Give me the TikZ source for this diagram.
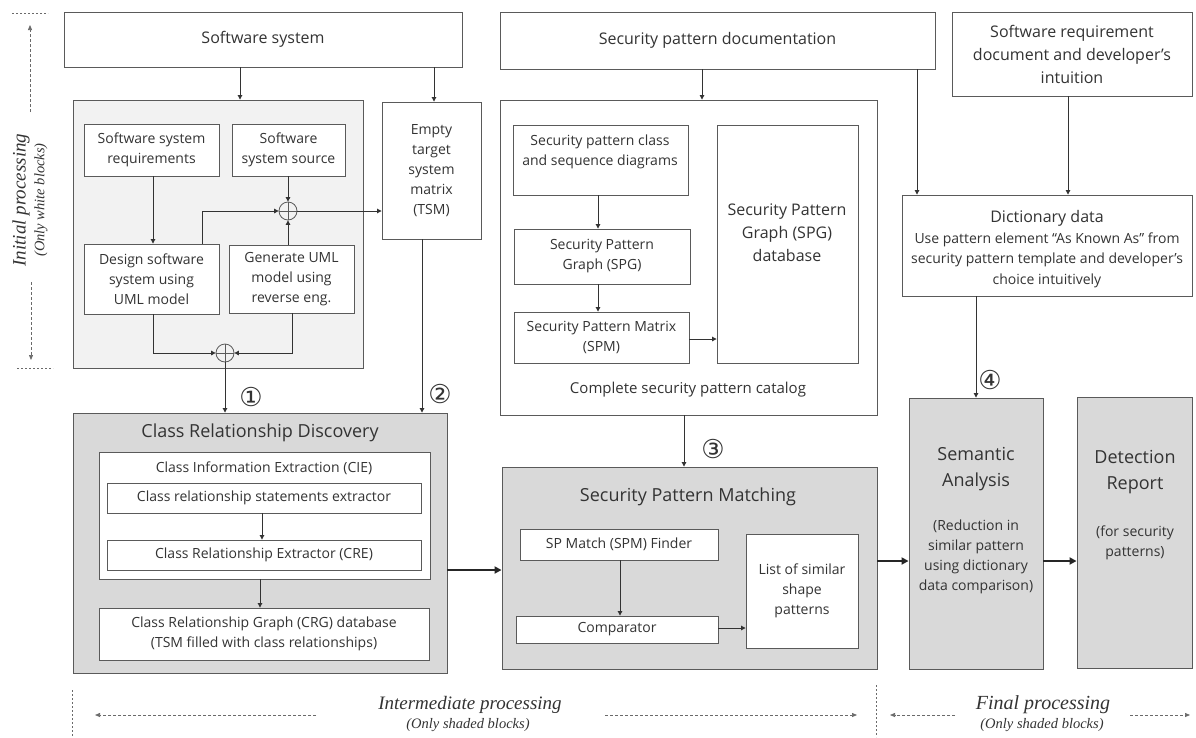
\documentclass[tikz,border=0pt]{standalone}
\usepackage{fontspec}
\setmainfont{Open Sans}
\newfontfamily\lser{Liberation Serif}
\newfontfamily\dvs{DejaVu Sans}
\usetikzlibrary{arrows.meta}
\definecolor{bord}{HTML}{5A5A5A}
\definecolor{txt}{HTML}{333333}
\definecolor{shade}{HTML}{D9D9D9}
\definecolor{light}{HTML}{F2F2F2}
\definecolor{anno}{HTML}{6A6A6A}
\newcommand\fsz[2]{\fontsize{#1}{#2}\selectfont}
\newcommand\bx[7]{\node[#1, minimum width={#5pt-#3pt}, minimum height={#6pt-#4pt}] (#2) at ({(#3+#5)/2},{(#4+#6)/2}) {#7};}
\tikzset{
  box/.style={draw=bord, line width=0.9pt, fill=white, text=txt, align=center, inner sep=0pt, font=\fsz{14}{20}},
  lbl/.style={text=txt, align=center, inner sep=0pt, font=\fsz{14}{20}},
  arr/.style={draw=txt, line width=0.9pt, -{Triangle[length=4.5pt,width=4.5pt]}},
  thk/.style={draw=black!85, line width=2.4pt, -{Triangle[length=7pt,width=7pt]}},
  opl/.style={circle, draw=bord, fill=light, minimum size=18pt, inner sep=0pt, line width=0.8pt,
    path picture={\draw[bord, line width=0.8pt] (path picture bounding box.north) -- (path picture bounding box.south) (path picture bounding box.west) -- (path picture bounding box.east);}},
  num/.style={text=txt, inner sep=0pt, font=\dvs\fsz{26}{28}},
  dasharr/.style={draw=anno, line width=0.7pt, dash pattern=on 3pt off 2pt, -{Triangle[length=5pt,width=4pt]}},
  dotln/.style={draw=anno, line width=0.7pt, dash pattern=on 2pt off 2pt},
  itl/.style={text=txt, inner sep=0pt, font=\lser\itshape\fsz{19}{22}},
  itls/.style={text=txt, inner sep=0pt, font=\lser\itshape\fsz{14.5}{16}},
}
\begin{document}
\begin{tikzpicture}[x=1pt,y=-1pt]
\useasboundingbox[fill=white] (0,0) rectangle (1196,737);

% ---------- top row ----------
\bx{box,font=\fsz{16}{20}}{ss}{64}{12}{462}{67}{Software system}
\bx{box,fill=light}{ib}{73}{100}{363}{368}{}
\bx{box}{ssr}{84}{124}{219}{176}{Software system\\requirements}
\bx{box}{sss}{232}{124}{345}{176}{Software\\system source}
\bx{box}{dss}{84}{244}{219}{314}{Design software\\system using\\UML model}
\bx{box}{gum}{229}{245}{354}{313}{Generate UML\\model using\\reverse eng.}
\node[opl] (o1) at (288,211) {};
\node[opl] (o2) at (225,353) {};
\bx{box}{tsm}{382}{102}{481}{239}{Empty\\target\\system\\matrix\\(TSM)}

\bx{box,font=\fsz{16}{20}}{spd}{500}{12}{935}{69}{Security pattern documentation}
\bx{box}{cat}{500}{100}{877}{415}{}
\node[lbl,font=\fsz{15}{20}] (catl) at (688,390) {Complete security pattern catalog};
\bx{box}{spc}{513}{125}{688}{195}{}
\node[lbl] (spct) at (600,152) {Security pattern class\\and sequence diagrams};
\bx{box}{spg}{514}{229}{690}{284}{Security Pattern\\Graph (SPG)}
\bx{box}{spm}{514}{312}{689}{363}{Security Pattern Matrix\\(SPM)}
\bx{box}{spgdb}{717}{125}{858}{363}{}
\node[lbl,font=\fsz{16}{23}] (spgdbt) at (787,233) {Security Pattern\\Graph (SPG)\\database};

\bx{box,font=\fsz{16}{23}}{srd}{952}{12}{1192}{96}{Software requirement\\document and developer's\\intuition}
\bx{box}{dict}{902}{195}{1192}{296}{}
\node[lbl,font=\fsz{14}{20.5}] (dictt) at (1047,249) {{\fsz{16}{21}Dictionary data}\\Use pattern element “As Known As” from\\security pattern template and developer's\\choice intuitively};

% ---------- bottom row ----------
\bx{box,fill=shade}{crd}{73}{413}{447}{673}{}
\node[lbl,font=\fsz{18}{22}] (crdt) at (260,433) {Class Relationship Discovery};
\bx{box}{cie}{99}{452}{430}{579}{}
\node[lbl] (ciet) at (264,468) {Class Information Extraction (CIE)};
\bx{box}{cse}{107}{483}{421}{513}{Class relationship statements extractor}
\bx{box}{cre}{107}{540}{421}{570}{Class Relationship Extractor (CRE)}
\bx{box}{crg}{99}{608}{429}{660}{Class Relationship Graph (CRG) database\\(TSM filled with class relationships)}

\bx{box,fill=shade}{spmt}{502}{467}{877}{669}{}
\node[lbl,font=\fsz{18}{22}] (spmtt) at (688,497) {Security Pattern Matching};
\bx{box}{fnd}{520}{529}{718}{560}{SP Match (SPM) Finder}
\bx{box}{cmp}{516}{616}{718}{643}{Comparator}
\bx{box}{lst}{746}{534}{858}{648}{List of similar\\shape\\patterns}

\bx{box,fill=shade}{sem}{909}{398}{1043}{669}{}
\node[lbl,font=\fsz{18}{26}] (semt) at (976,469) {Semantic\\Analysis};
\node[lbl] (semd) at (976,557) {(Reduction in\\similar pattern\\using dictionary\\data comparison)};
\bx{box,fill=shade}{det}{1077}{397}{1192}{668}{}
\node[lbl,font=\fsz{18}{26}] (dett) at (1135,472) {Detection\\Report};
\node[lbl] (detd) at (1135,543) {(for security\\patterns)};

% ---------- connectors ----------
\draw[arr] (ss.south -| 240,0) -- (ib.north -| 240,0);
\draw[arr] (ss.south -| 434,0) -- (tsm.north -| 434,0);
\draw[arr] (ssr.south -| 153,0) -- (dss.north -| 153,0);
\draw[arr] (sss.south -| o1) -- (o1.north);
\draw[arr] (gum.north -| o1) -- (o1.south);
\draw[arr] (dss.north -| 202,0) |- (o1.west);
\draw[arr] (o1.east) -- (tsm.west |- o1);
\draw[arr] (dss.south -| 153,0) |- (o2.west);
\draw[arr] (gum.south -| 292,0) |- (o2.east);
\draw[arr] (o2.south) -- (crd.north -| o2);
\draw[arr] (tsm.south -| 422,0) -- (crd.north -| 422,0);
\draw[arr] (cse.south -| 262,0) -- (cre.north -| 262,0);
\draw[arr] (cie.south -| 260,0) -- (crg.north -| 260,0);
\draw[thk] (crd.east |- 0,570) -- (spmt.west |- 0,570);
\draw[arr] (spc.south -| 598,0) -- (spg.north -| 598,0);
\draw[arr] (spg.south -| 598,0) -- (spm.north -| 598,0);
\draw[arr] (spm.east |- 0,339) -- (spgdb.west |- 0,339);
\draw[arr] (spd.south -| 702,0) -- (cat.north -| 702,0);
\draw[arr] (cat.south -| 684,0) -- (spmt.north -| 684,0);
\draw[arr] (fnd.south -| 620,0) -- (cmp.north -| 620,0);
\draw[arr] (cmp.east |- 0,628) -- (lst.west |- 0,628);
\draw[thk] (spmt.east |- 0,561) -- (sem.west |- 0,561);
\draw[thk] (sem.east |- 0,561) -- (det.west |- 0,561);
\draw[arr] (spd.south -| 917,0) -- (dict.north -| 917,0);
\draw[arr] (srd.south -| 1068,0) -- (dict.north -| 1068,0);
\draw[arr] (dict.south -| 976,0) -- (sem.north -| 976,0);

\node[num] (n1) at (251,397) {①};
\node[num] (n2) at (440,394) {②};
\node[num] (n3) at (713,449) {③};
\node[num] (n4) at (990,380) {④};

% ---------- annotations ----------
\coordinate (tl1) at (12,13); \coordinate (tl2) at (48,13);
\coordinate (bl1) at (17,368); \coordinate (bl2) at (53,368);
\draw[dotln] (tl1) -- (tl2);
\draw[dotln] (bl1) -- (bl2);
\coordinate (ua) at (30,112); \coordinate (ub) at (30,25);
\coordinate (la) at (31,282); \coordinate (lb) at (31,360);
\draw[dasharr] (ua) -- (ub);
\draw[dasharr] (la) -- (lb);
\node[itl, rotate=90] (ip) at (21,200) {Initial processing};
\node[itls, rotate=90] (ipo) at (41,200) {(Only white blocks)};

\node[itl] (imp) at (470,705) {Intermediate processing};
\node[itls] (imps) at (468,725) {(Only shaded blocks)};
\coordinate (ia1) at (316,715); \coordinate (ia2) at (95,715);
\coordinate (ib1) at (605,715); \coordinate (ib2) at (857,715);
\draw[dasharr] (ia1) -- (ia2);
\draw[dasharr] (ib1) -- (ib2);
\coordinate (v1a) at (72,690); \coordinate (v1b) at (72,737);
\coordinate (v2a) at (876,685); \coordinate (v2b) at (876,737);
\draw[dotln] (v1a) -- (v1b);
\draw[dotln] (v2a) -- (v2b);

\node[itl, font=\lser\itshape\fsz{20}{22}] (fp) at (1043,705) {Final processing};
\node[itls] (fps) at (1042,725) {(Only shaded blocks)};
\coordinate (fa1) at (955,715); \coordinate (fa2) at (890,715);
\coordinate (fb1) at (1130,715); \coordinate (fb2) at (1190,715);
\draw[dasharr] (fa1) -- (fa2);
\draw[dasharr] (fb1) -- (fb2);
\end{tikzpicture}
\end{document}
